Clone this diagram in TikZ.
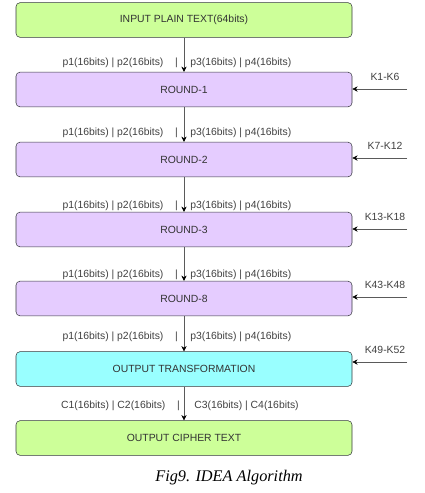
\documentclass[tikz,border=0pt]{standalone}
\usepackage{fontspec}
\setmainfont{Liberation Serif}
\setsansfont{Liberation Sans}
\usetikzlibrary{arrows.meta}
\definecolor{plaingreen}{HTML}{CDFF99}
\definecolor{roundlilac}{HTML}{E5CCFF}
\definecolor{outcyan}{HTML}{99FFFF}
\definecolor{edgegray}{HTML}{36393D}
\definecolor{wiregray}{HTML}{5A5A5A}
\tikzset{
  stage/.style={draw=edgegray, rounded corners=3pt, minimum width=252pt, minimum height=26pt,
    inner sep=0pt, font=\sffamily\fontsize{7.8}{9}\selectfont, text=black!80},
  bitlbl/.style={font=\sffamily\fontsize{7.8}{9}\selectfont, text=black!75, inner sep=0pt},
  flow/.style={draw=wiregray, -{Stealth[length=4pt,width=4pt,color=black]}}
}
\begin{document}
\begin{tikzpicture}[x=0.75pt,y=-0.75pt]
\useasboundingbox (0,0) rectangle (425,493);

\def\MIDX{184}
	% stages
	\node[stage, fill=plaingreen]  (plain) at (\MIDX,20)  {INPUT PLAIN TEXT(64bits)};
	\node[stage, fill=roundlilac]  (r1)    at (\MIDX,89.5)  {ROUND-1};
	\node[stage, fill=roundlilac]  (r2)    at (\MIDX,159.5) {ROUND-2};
	\node[stage, fill=roundlilac]  (r3)    at (\MIDX,229.5) {ROUND-3};
	\node[stage, fill=roundlilac]  (r8)    at (\MIDX,298.5) {ROUND-8};
	\node[stage, fill=outcyan]     (otr)   at (\MIDX,369)   {OUTPUT TRANSFORMATION};
	\node[stage, fill=plaingreen]  (ciph)  at (\MIDX,438)   {OUTPUT CIPHER TEXT};

	% data path
	\draw[flow] (plain) -- (r1);
	\draw[flow] (r1) -- (r2);
	\draw[flow] (r2) -- (r3);
	\draw[flow] (r3) -- (r8);
	\draw[flow] (r8) -- (otr);
	\draw[flow] (otr) -- (ciph);

	% block halves
	\foreach \yy/\nm in {63/a,133/b,206/c,275/d,337/e}{
	  \node[bitlbl, anchor=east] (pl\nm) at (\MIDX-6,\yy) {p1(16bits) | p2(16bits)\ \ \ \ |};
	  \node[bitlbl, anchor=west] (pr\nm) at (\MIDX+6,\yy) {p3(16bits) | p4(16bits)};
	}
	\node[bitlbl, anchor=east] (cl) at (\MIDX-4,406) {C1(16bits) | C2(16bits)\ \ \ \ |};
	\node[bitlbl, anchor=west] (cr) at (\MIDX+10,406) {C3(16bits) | C4(16bits)};

	% subkeys
	\foreach \nm/\yy/\txt in {r1/77/K1-K6, r2/146/K7-K12, r3/217/K13-K18, r8/285/K43-K48, otr/350/K49-K52}{
	  \coordinate (k\nm) at (407,\yy+12);
	  \node[bitlbl] at (385,\yy) {\txt};
	  \draw[flow] (k\nm) -- (\nm.east |- k\nm);
	}

	% caption
	\node[font=\itshape\fontsize{12.2}{14}\selectfont] (cap) at (229,478) {Fig9. IDEA Algorithm};
\end{tikzpicture}
\end{document}
